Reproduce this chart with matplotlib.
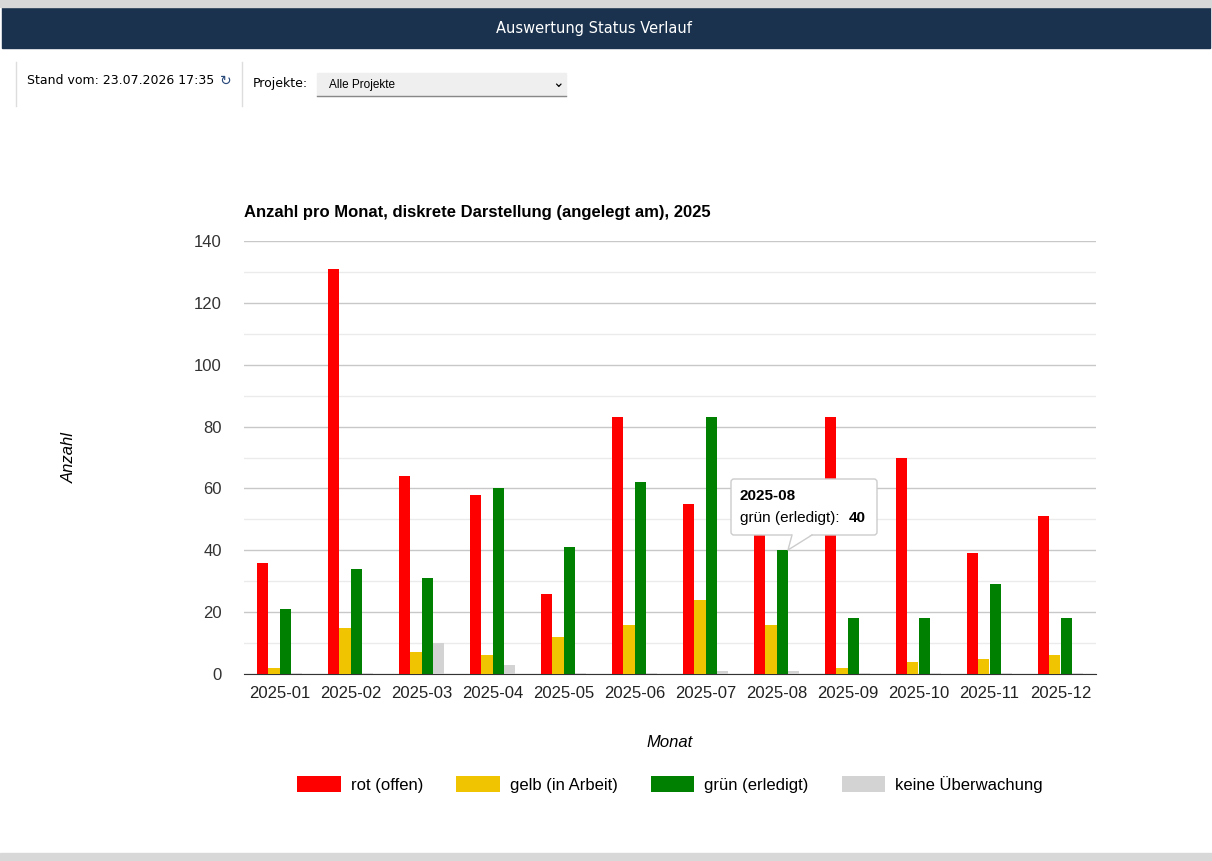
import numpy as np
import matplotlib
matplotlib.use('Agg')
import matplotlib.pyplot as plt
from matplotlib.patches import Rectangle, FancyBboxPatch, Polygon

plt.rcParams['font.family'] = ['Liberation Sans', 'DejaVu Sans']

# --- DATA ---
months = ["2025-01", "2025-02", "2025-03", "2025-04", "2025-05", "2025-06",
          "2025-07", "2025-08", "2025-09", "2025-10", "2025-11", "2025-12"]
rot = [36, 131, 64, 58, 26, 83, 55, 60, 83, 70, 39, 51]
gelb = [2, 15, 7, 6, 12, 16, 24, 16, 2, 4, 5, 6]
gruen = [21, 34, 31, 60, 41, 62, 83, 40, 18, 18, 29, 18]
keine = [0.3, 0.3, 10, 3, 0.3, 0.3, 1, 1, 0.3, 0.3, 0.3, 0.3]
series = [("rot (offen)", rot, "#ff0000"), ("gelb (in Arbeit)", gelb, "#f0c400"),
          ("grün (erledigt)", gruen, "#008000"), ("keine Überwachung", keine, "#d3d3d3")]

W, H = 1212, 861
fig = plt.figure(figsize=(W / 100, H / 100), dpi=100)
fig.patch.set_facecolor("white")

# page chrome (header, filter row)
hdr = fig.add_axes([0, 0, 1, 1], zorder=5)
hdr.set_xlim(0, W); hdr.set_ylim(H, 0); hdr.axis("off")
hdr.patch.set_alpha(0)
hdr.add_patch(Rectangle((2, 7), 1208, 41, color="#1a324d"))
hdr.add_patch(Rectangle((0, 0), W, 7, color="#d8d8d8"))
hdr.text(594, 28, "Auswertung Status Verlauf", color="white", ha="center", va="center",
         fontsize=10.5, family=["DejaVu Sans"])
hdr.plot([16, 16], [62, 106], color="#ddd", lw=1)
hdr.plot([242, 242], [62, 106], color="#ddd", lw=1)
hdr.text(27, 81, "Stand vom: 23.07.2026 17:35", fontsize=9, va="center", family=["DejaVu Sans"])
hdr.text(220, 81, "\u21bb", fontsize=10, va="center", color="#2a4a7a", family=["DejaVu Sans"])
hdr.text(253, 84, "Projekte:", fontsize=9, va="center", family=["DejaVu Sans"])
hdr.add_patch(Rectangle((317, 73), 249, 23, color="#efefef"))
hdr.plot([317, 566], [96, 96], color="#888", lw=1)
hdr.text(329, 85, "Alle Projekte", fontsize=8.5, va="center")
hdr.text(558, 83, "\u2304", fontsize=10, va="center", ha="center", family=["DejaVu Sans"])
hdr.add_patch(Rectangle((0, 853), W, 8, color="#d8d8d8"))

ax = fig.add_axes([244 / W, 1 - 674 / H, (1096 - 244) / W, (674 - 241) / H])
x = np.arange(len(months))
bw = 0.155
for i, (name, vals, col) in enumerate(series):
    ax.bar(x + (i - 1.5) * bw, vals, bw, color=col, label=name, zorder=3)

ax.set_xlim(-0.5, 11.5)
ax.set_ylim(0, 140)
ax.set_yticks(range(0, 141, 20))
ax.set_yticks(range(10, 141, 20), minor=True)
ax.grid(axis="y", which="major", color="#c8c8c8", lw=1)
ax.grid(axis="y", which="minor", color="#ebebeb", lw=1)
ax.tick_params(axis="y", which="both", length=0, labelsize=12, colors="#333", pad=16)
ax.tick_params(axis="x", length=0, labelsize=12, colors="#222", pad=9)
ax.set_xticks(x, months)
for s in ["top", "right", "left"]:
    ax.spines[s].set_visible(False)
ax.spines["bottom"].set_color("#333")
ax.set_title("Anzahl pro Monat, diskrete Darstellung (angelegt am), 2025",
             loc="left", fontsize=12, fontweight="bold", pad=17)
ax.set_ylabel("Anzahl", fontstyle="italic", fontsize=12, labelpad=84)
ax.set_xlabel("Monat", fontstyle="italic", fontsize=12, labelpad=24)

ax.legend(loc="upper center", bbox_to_anchor=(0.5, -0.2), ncol=4, frameon=False,
          fontsize=12, handlelength=2.6, handleheight=1.1, columnspacing=2.0,
          handletextpad=0.6)

# tooltip for 2025-08 green bar
hdr.add_patch(FancyBboxPatch((731, 479), 146, 56, boxstyle="round,pad=0,rounding_size=3",
                             fc="white", ec="#cccccc", lw=1, zorder=5))
hdr.add_patch(Polygon([[792, 534], [812, 534], [788, 550]], closed=True,
                      fc="white", ec="none", zorder=6))
hdr.plot([792, 788, 812], [535, 550, 535], color="#cccccc", lw=1, zorder=6)
hdr.text(740, 496, "2025-08", fontsize=11, fontweight="bold", va="center", zorder=7)
hdr.text(740, 518, "grün (erledigt):", fontsize=11, va="center", zorder=7)
hdr.text(849, 518, "40", fontsize=11, fontweight="bold", va="center", zorder=7)

fig.savefig("out.png", dpi=100)
